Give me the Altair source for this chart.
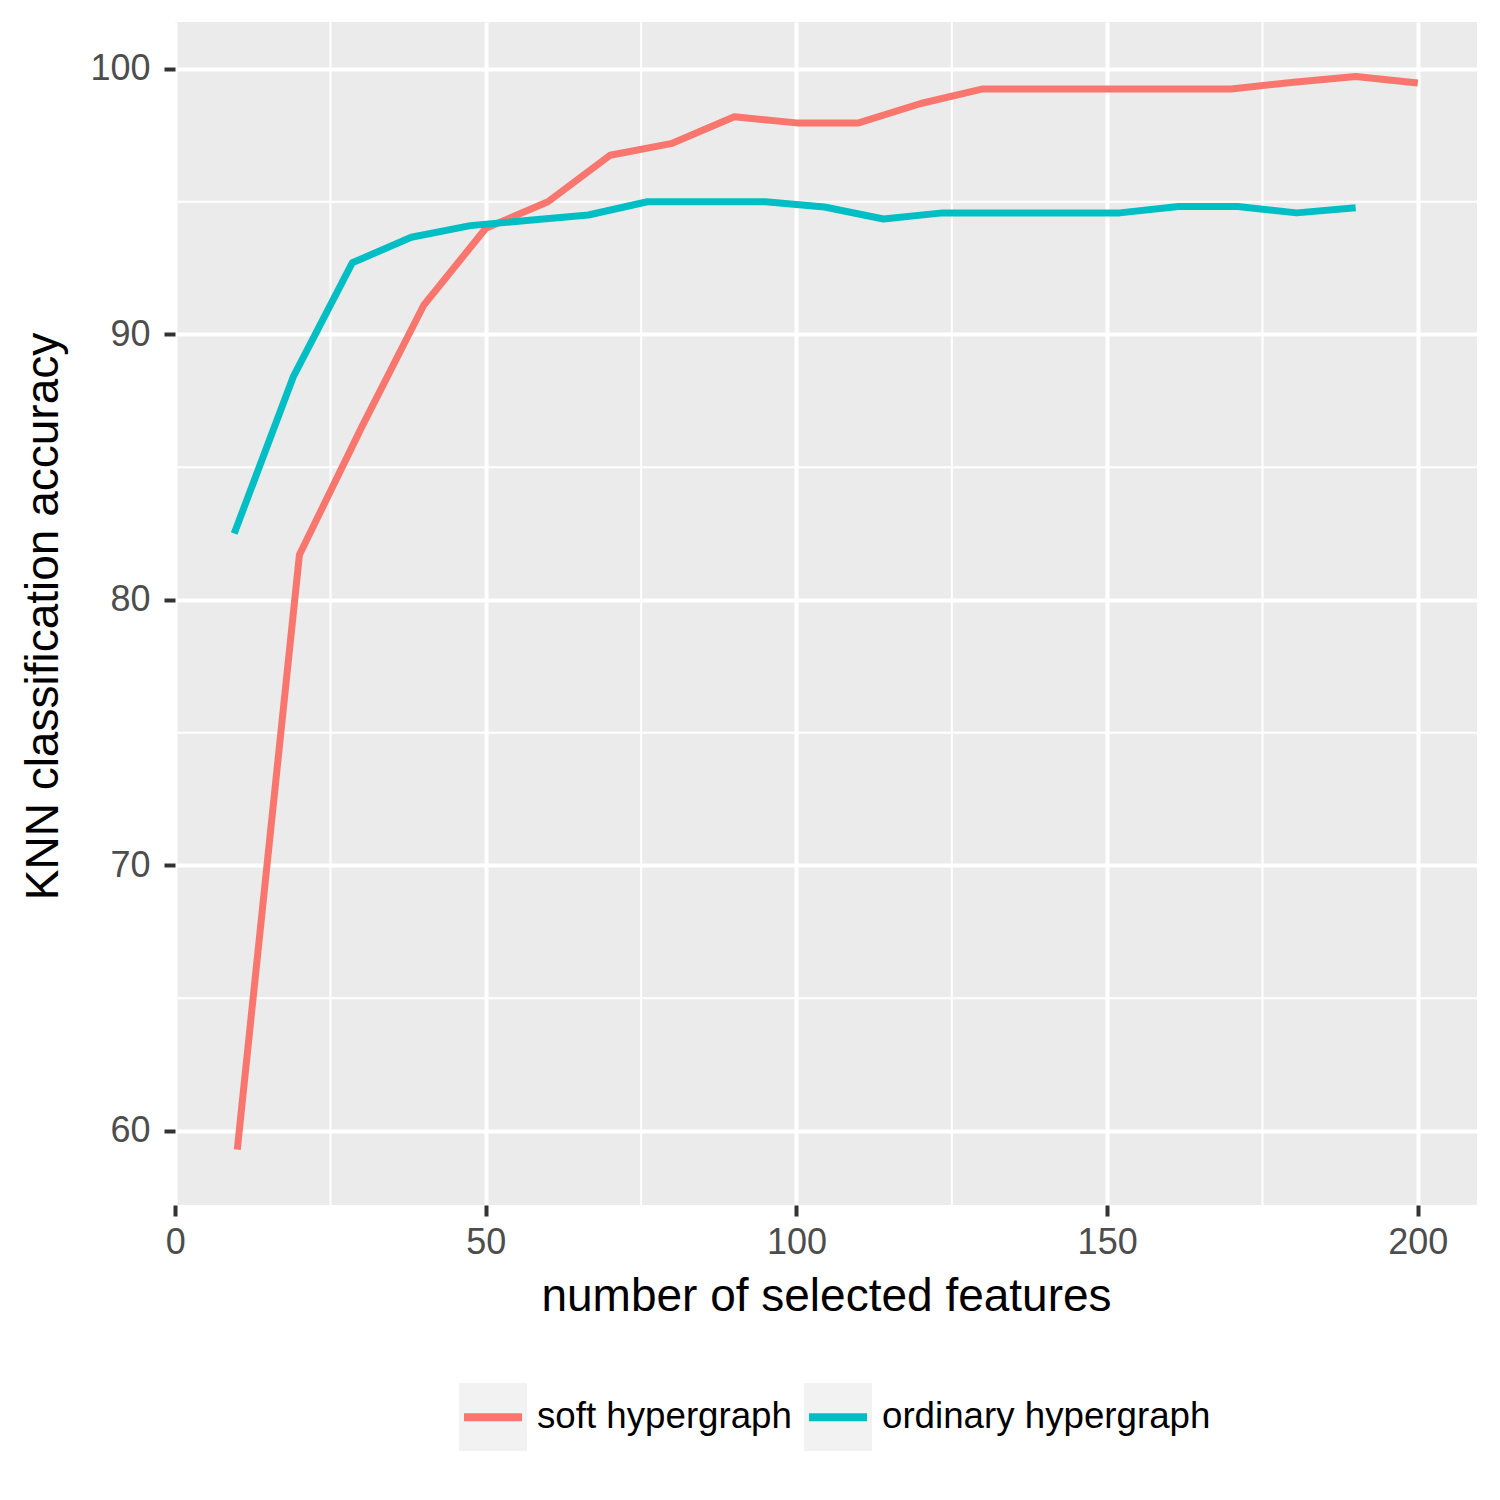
import altair as alt
import pandas as pd

# ---- data ----
soft_x = [10, 20, 30, 40, 50, 60, 70, 80, 90, 100,
          110, 120, 130, 140, 150, 160, 170, 180, 190, 200]
soft_acc = [59.3, 81.7, 86.5, 91.1, 94.0, 95.0, 96.75, 97.2, 98.2, 97.97,
            97.97, 98.7, 99.25, 99.25, 99.25, 99.25, 99.25, 99.5, 99.72, 99.47]

ord_x = [9.5, 19, 28.5, 38, 47.5, 57, 66.5, 76, 85.5, 95,
         104.5, 114, 123.5, 133, 142.5, 152, 161.5, 171, 180.5, 190]
ord_acc = [82.5, 88.4, 92.7, 93.66, 94.1, 94.3, 94.5, 95.0, 95.0, 95.0,
           94.8, 94.35, 94.58, 94.58, 94.58, 94.58, 94.82, 94.82, 94.58, 94.77]

series_names = ["soft hypergraph", "ordinary hypergraph"]
series_colors = ["#F8766D", "#00BFC4"]

x_ticks = [0, 50, 100, 150, 200]
y_ticks = [60, 70, 80, 90, 100]
x_minor = [25, 75, 125, 175]
y_minor = [65, 75, 85, 95]

FONT = "Liberation Sans, Arial, sans-serif"

df = pd.DataFrame({
    "features": soft_x + ord_x,
    "accuracy": soft_acc + ord_acc,
    "series": [series_names[0]] * len(soft_x) + [series_names[1]] * len(ord_x),
})
df["key"] = df["series"] + " "

xscale = alt.Scale(domain=[-0.025, 209.525], nice=False, zero=False)
yscale = alt.Scale(domain=[57.21, 101.77], nice=False, zero=False)

common_axis = dict(
    domain=False, grid=True, gridColor="white", gridWidth=4,
    ticks=True, tickColor="#333333", tickWidth=4, tickSize=11,
    labelFont=FONT, labelFontSize=36, labelColor="#4D4D4D",
    labelFlush=False, labelOverlap=False,
    titleFont=FONT, titleFontSize=46, titleFontWeight="normal", titleColor="black",
    titleBaseline="alphabetic",
)
x_axis = alt.Axis(values=x_ticks, title="number of selected features",
                  labelPadding=9, titleY=105, **common_axis)
y_axis = alt.Axis(values=y_ticks, title="KNN classification accuracy",
                  labelPadding=14, titleX=-118, titleY=594, **common_axis)

legend_common = dict(
    orient="none", legendX=284, legendY=1361, direction="horizontal",
    title=None, padding=0, symbolSize=3600, symbolStrokeWidth=8,
    labelFont=FONT, labelFontSize=36.7, labelOffset=10, columnPadding=0,
    labelLimit=1000,
)

view_bg = alt.ViewBackground(fill="#EBEBEB", stroke=None)

minor_v = alt.Chart(pd.DataFrame({"features": x_minor})).mark_rule(
    color="white", strokeWidth=2
).encode(x=alt.X("features:Q", scale=xscale, axis=x_axis))

minor_h = alt.Chart(pd.DataFrame({"accuracy": y_minor})).mark_rule(
    color="white", strokeWidth=2
).encode(y=alt.Y("accuracy:Q", scale=yscale, axis=y_axis))

lines = alt.Chart(df).mark_line(strokeWidth=7, strokeJoin="round").encode(
    x=alt.X("features:Q", scale=xscale, axis=x_axis),
    y=alt.Y("accuracy:Q", scale=yscale, axis=y_axis),
    color=alt.Color("series:N",
                    scale=alt.Scale(domain=series_names, range=series_colors),
                    legend=alt.Legend(symbolType="M-0.967,0H0.967",
                                      labelColor="black", zindex=2,
                                      **legend_common)),
)

helper = alt.Chart(df).transform_filter("datum.features < -100").mark_point(
    filled=True
).encode(
    fill=alt.Fill("key:N",
                  scale=alt.Scale(domain=[n + " " for n in series_names],
                                  range=["#F2F2F2", "#F2F2F2"]),
                  legend=alt.Legend(symbolType="square", symbolStrokeColor="#F2F2F2",
                                    symbolOpacity=1, labelOpacity=0,
                                    labelExpr="trim(datum.label)", zindex=1,
                                    **legend_common)),
)

chart = alt.layer(minor_v, minor_h, lines, helper).properties(
    width=1302, height=1183,
    padding={"left": 167, "top": 14, "right": 15, "bottom": 280},
    autosize=alt.AutoSizeParams(type="none"),
    background="white",
    view=view_bg,
).configure_view(fill="#EBEBEB", stroke=None)

chart.save("out.html", embed_options={"renderer": "svg", "actions": False})
